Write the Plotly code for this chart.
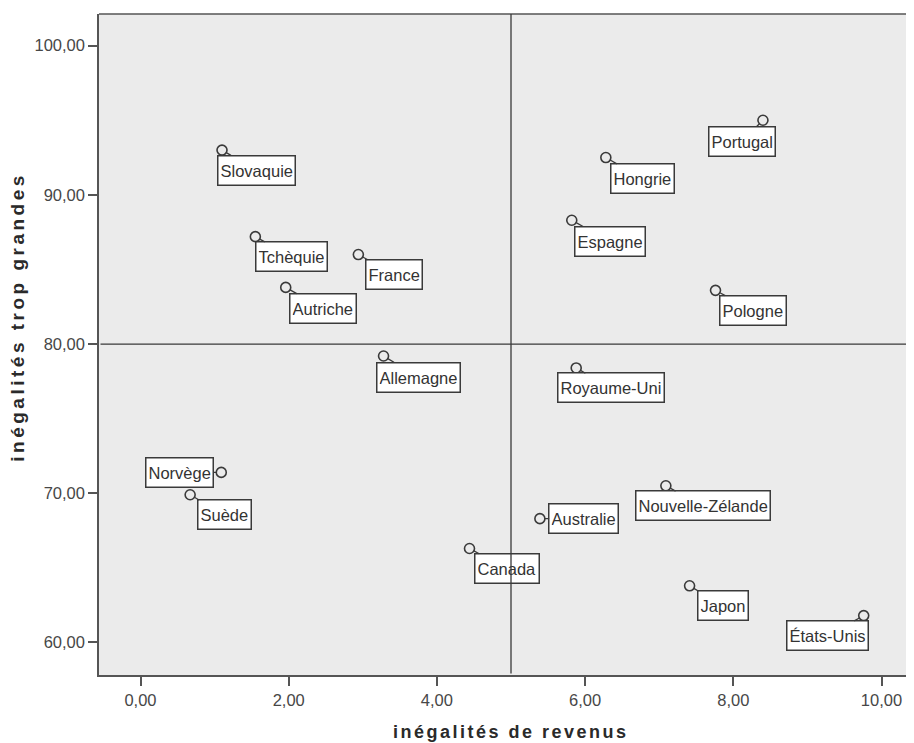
import plotly.graph_objects as go

# ---- data ----
countries = ["Slovaquie", "Tchèquie", "France", "Autriche", "Allemagne",
             "Portugal", "Hongrie", "Espagne", "Pologne", "Royaume-Uni",
             "Norvège", "Suède", "Canada", "Australie", "Nouvelle-Zélande",
             "Japon", "États-Unis"]
income_ineq = [1.10, 1.55, 2.94, 1.96, 3.28,
               8.40, 6.28, 5.82, 7.76, 5.88,
               1.09, 0.67, 4.44, 5.39, 7.09,
               7.41, 9.76]
too_large = [93.0, 87.2, 86.0, 83.8, 79.2,
             95.0, 92.5, 88.3, 83.6, 78.4,
             71.4, 69.9, 66.3, 68.3, 70.5,
             63.8, 61.8]
x_ticks = [0, 2, 4, 6, 8, 10]
x_ticktext = ["0,00", "2,00", "4,00", "6,00", "8,00", "10,00"]
y_ticks = [60, 70, 80, 90, 100]
y_ticktext = ["60,00", "70,00", "80,00", "90,00", "100,00"]
x_ref = 5.0
y_ref = 80.0
x_title = "inégalités de revenus"
y_title = "inégalités trop grandes"

# ---- label placement (pixel offsets of label box centre from point) ----
label_offsets = [(34, 20), (36, 20), (36, 20), (37, 21), (35, 21),
                 (-21, 21), (37, 21), (38, 21), (37, 20), (35, 20),
                 (-42, 0), (34, 20), (37, 20), (44, 0), (37, 20),
                 (33, 20), (-36, 20)]

FIG_W, FIG_H = 906, 735          # page adds an 8px body margin
M_L, M_T, M_B = 91, 6, 68
PLOT_H = FIG_H - M_T - M_B
X_RANGE = [-0.56, -0.56 + (FIG_W - M_L) / 74.1]
Y_RANGE = [57.82, 57.82 + PLOT_H / 14.92]
FONT = "Arial, 'Liberation Sans', sans-serif"
DARK = "#3a3a3a"

fig = go.Figure()
fig.add_trace(go.Scatter(
    x=income_ineq, y=too_large, mode="markers",
    marker=dict(symbol="circle-open", size=10, color=DARK,
                line=dict(width=1.6, color=DARK)),
    hoverinfo="skip", showlegend=False))

annotations = []
for name, xv, yv, (ax, ay) in zip(countries, income_ineq, too_large, label_offsets):
    annotations.append(dict(
        x=xv, y=yv, xref="x", yref="y", text=name,
        showarrow=True, arrowhead=0, arrowwidth=1.3, arrowcolor=DARK,
        standoff=5, ax=ax, ay=ay, height=24,
        font=dict(family=FONT, size=16.5, color="#333333"),
        bgcolor="white", bordercolor=DARK, borderwidth=1.5, borderpad=2))

# reference lines drawn as arrow-only annotations so they sit above the label boxes
annotations.append(dict(x=x_ref, y=Y_RANGE[1], ax=x_ref, ay=Y_RANGE[0],
                        xref="x", yref="y", axref="x", ayref="y", text="",
                        showarrow=True, arrowhead=0, arrowwidth=1.3,
                        arrowcolor=DARK, standoff=0, startstandoff=0))
annotations.append(dict(x=X_RANGE[1], y=y_ref, ax=X_RANGE[0], ay=y_ref,
                        xref="x", yref="y", axref="x", ayref="y", text="",
                        showarrow=True, arrowhead=0, arrowwidth=1.3,
                        arrowcolor=DARK, standoff=0, startstandoff=0))

# axis titles
annotations.append(dict(
    x=x_ref, y=0, xref="x", yref="paper", yanchor="top", yshift=-45,
    showarrow=False,
    text='<span style="letter-spacing:2.5px">' + x_title + '</span>',
    font=dict(family=FONT, size=18, color="#2a2a2a", weight="bold")))
annotations.append(dict(
    x=0, y=1 - (308.7 - M_T) / PLOT_H, xref="paper", yref="paper",
    xanchor="center", xshift=-81, yanchor="middle",
    showarrow=False, textangle=-90,
    text='<span style="letter-spacing:3.5px">' + y_title + '</span>',
    font=dict(family=FONT, size=19, color="#2a2a2a", weight="bold")))

axis_common = dict(showgrid=False, zeroline=False, showline=True,
                   linecolor="#555555", linewidth=1.5, ticks="outside",
                   ticklen=9, tickwidth=1.5, tickcolor="#555555",
                   tickfont=dict(family=FONT, size=16.5, color="#474747"))

fig.update_layout(
    width=FIG_W, height=FIG_H,
    margin=dict(l=M_L, r=0, t=M_T, b=M_B),
    paper_bgcolor="white", plot_bgcolor="#ebebeb",
    xaxis=dict(range=X_RANGE, tickvals=x_ticks, ticktext=x_ticktext, **axis_common),
    yaxis=dict(range=Y_RANGE, tickvals=y_ticks, ticktext=y_ticktext, **axis_common),
    annotations=annotations,
    shapes=[dict(type="line", xref="paper", yref="paper", x0=0, x1=1, y0=1, y1=1,
                 line=dict(color="#555555", width=1.5))],
)

fig.write_html("out.html")
